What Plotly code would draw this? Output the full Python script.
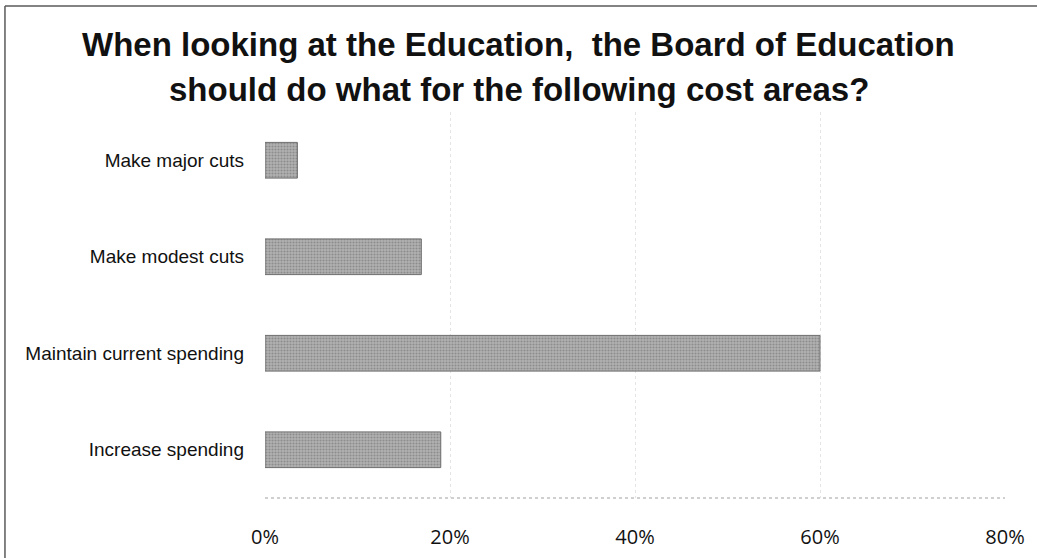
import plotly.graph_objects as go

# Survey responses, listed bottom-to-top as drawn on the category axis
categories = [
    "Increase spending",
    "Maintain current spending",
    "Make modest cuts",
    "Make major cuts",
]
shares = [19.0, 60.0, 16.9, 3.5]  # percent of respondents
tick_values = [0, 20, 40, 60, 80]
tick_labels = ["0%", "20%", "40%", "60%", "80%"]

title_lines = [
    "When looking at the Education,  the Board of Education",
    "should do what for the following cost areas?",
]

fig = go.Figure(
    go.Bar(
        x=shares,
        y=categories,
        orientation="h",
        marker=dict(
            color="#a6a6a6",
            line=dict(color="#6e6e6e", width=1),
            pattern=dict(shape=".", fgcolor="#666666", bgcolor="#b2b2b2",
                         size=3, solidity=0.4),
        ),
        hoverinfo="x+y",
    )
)

# Title as two centred lines above the plot area
title_font = dict(family="Liberation Sans", size=33, color="#111111",
                  weight="bold")
annotations = [
    dict(text=title_lines[0], xref="paper", yref="paper",
         x=0.3426, y=1.1736, xanchor="center", yanchor="middle",
         showarrow=False, font=title_font),
    dict(text=title_lines[1], xref="paper", yref="paper",
         x=0.3426, y=1.057, xanchor="center", yanchor="middle",
         showarrow=False, font=title_font),
]

fig.update_layout(
    width=1037,
    height=558,
    margin=dict(l=265, r=32, t=112, b=60),
    paper_bgcolor="white",
    plot_bgcolor="white",
    bargap=0.63,
    showlegend=False,
    annotations=annotations,
    xaxis=dict(
        range=[0, 80],
        tickvals=tick_values,
        ticktext=tick_labels,
        automargin=False,
        showgrid=True,
        gridcolor="#e4e4e4",
        griddash="dot",
        gridwidth=1,
        zeroline=False,
        showline=False,
        ticks="",
        ticklabelstandoff=25,
        tickfont=dict(family="Open Sans", size=20, color="#111111"),
    ),
    yaxis=dict(
        categoryorder="array",
        categoryarray=categories,
        automargin=False,
        showgrid=False,
        zeroline=False,
        showline=False,
        ticks="",
        ticklabelstandoff=20,
        tickfont=dict(family="Liberation Sans", size=19, color="#111111"),
    ),
    shapes=[
        # dotted baseline under the bars
        dict(type="line", xref="paper", yref="paper", x0=0, x1=1, y0=0, y1=0,
             line=dict(color="#a0a0a0", width=1, dash="dot")),
        # frame edges along the top and left of the chart area
        dict(type="line", xref="paper", yref="paper",
             x0=-0.3514, x1=1.05, y0=1.2746, y1=1.2746,
             line=dict(color="#5a5a5a", width=1.5)),
        dict(type="line", xref="paper", yref="paper",
             x0=-0.3514, x1=-0.3514, y0=1.2746, y1=-0.2,
             line=dict(color="#5a5a5a", width=1.5)),
    ],
)

fig.write_html("out.html")
